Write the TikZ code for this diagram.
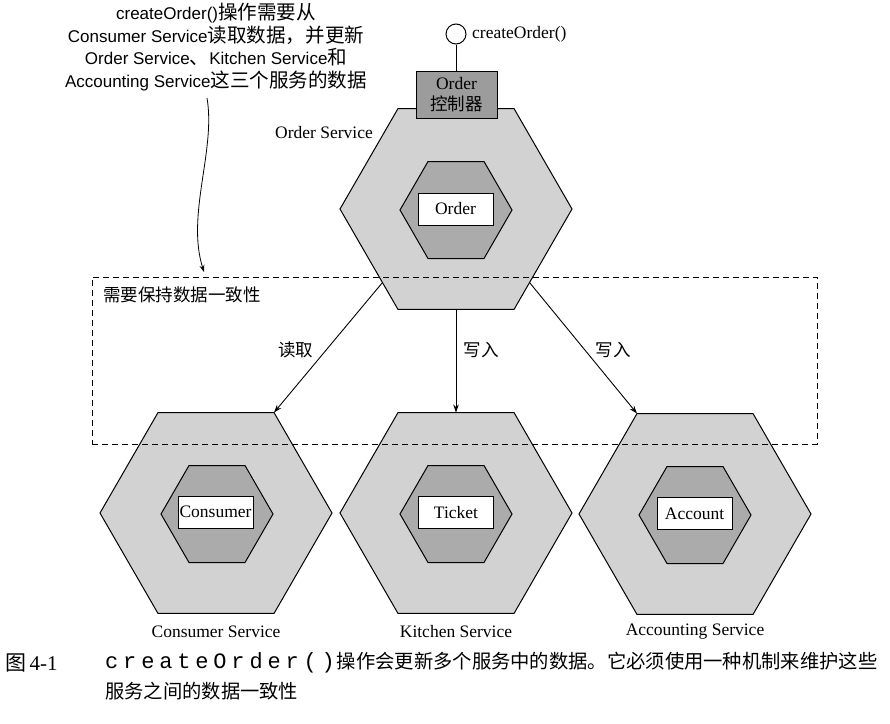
\documentclass[tikz,border=0pt]{standalone}
\usepackage{fontspec}
\setmainfont{Liberation Serif}
\setsansfont{Liberation Sans}
\setmonofont{Liberation Mono}
\newfontfamily\cjk{Noto Sans CJK SC}
\newfontfamily\cjkbig[Scale=1.15]{Noto Sans CJK SC}
\newfontfamily\capmono[LetterSpace=22]{Liberation Mono}
\usetikzlibrary{shapes.geometric,arrows.meta}
\definecolor{hexout}{HTML}{D2D2D2}
\definecolor{hexin}{HTML}{ABABAB}
\definecolor{ctrlfill}{HTML}{9C9C9C}
\tikzset{
  outerhex/.style={regular polygon, regular polygon sides=6, minimum size=232pt, inner sep=0pt, outer sep=0pt, draw=black, line width=1pt, fill=hexout},
  innerhex/.style={regular polygon, regular polygon sides=6, minimum size=112pt, inner sep=0pt, outer sep=0pt, draw=black, line width=1pt, fill=hexin},
  entbox/.style={draw=black, line width=1pt, fill=white, minimum width=75pt, minimum height=32pt, inner sep=0pt, font=\fontsize{17.5}{20}\selectfont},
  ctrlbox/.style={draw=black, line width=1pt, fill=ctrlfill, minimum width=81pt, minimum height=47pt, inner sep=0pt, align=center, font=\fontsize{17.5}{20.5}\selectfont},
  svclabel/.style={inner sep=0pt, font=\fontsize{17.5}{20}\selectfont},
  cjklabel/.style={inner sep=0pt, font=\cjk\fontsize{17.5}{20}\selectfont},
  arr/.style={line width=0.9pt, -{Stealth[length=8pt,width=5.5pt]}},
  zonebox/.style={draw=black, line width=1pt, dash pattern=on 6pt off 4pt, inner sep=0pt, minimum width=725pt, minimum height=167pt},
  captext/.style={inner sep=0pt, anchor=west, font=\fontsize{21}{22}\selectfont}
}
\begin{document}
\begin{tikzpicture}[x=1pt, y=-1pt]
\useasboundingbox (0,0) rectangle (890,723);

% annotation
\node[align=center, inner sep=0pt, font=\sffamily\fontsize{17}{22.5}\selectfont] (note) at (216,47)
 {createOrder(){\cjkbig 操作需要从}\\
  Consumer Service{\cjkbig 读取数据，并更新}\\
  Order Service{\cjkbig 、}Kitchen Service{\cjkbig 和}\\
  Accounting Service{\cjkbig 这三个服务的数据}};
\coordinate (ns) at (207,98);
\coordinate (ne) at (204,272);
\draw[line width=0.8pt, -{Stealth[length=7pt,width=5pt]}] (ns) .. controls (216,150) and (186,215) .. (ne);

% order service
\node[outerhex] (os) at (456,209) {};
\node[innerhex] (oi) at (456,210) {};
\node[entbox] (ob) at (455.5,209) {Order};
\node[svclabel, anchor=east] (osl) at (373,133) {Order Service};
\node[circle, draw=black, line width=1pt, fill=white, minimum size=20pt, inner sep=0pt] (iface) at (456,34) {};
\draw[line width=1pt] (iface) -- (456,71);
\node[ctrlbox] (ctl) at (456.5,94.5) {Order\\{\cjk 控制器}};
\node[svclabel, anchor=west] (ifl) at (472,34) {createOrder()};

% consumer service
\node[outerhex] (cs) at (216,513) {};
\node[innerhex] (ci) at (217,514) {};
\node[entbox] (cb) at (215.5,512) {Consumer};
\node[svclabel] (csl) at (216,632) {Consumer Service};

% kitchen service
\node[outerhex] (ks) at (456,513) {};
\node[innerhex] (ki) at (456,514) {};
\node[entbox] (kb) at (456,512.5) {Ticket};
\node[svclabel] (ksl) at (456,632) {Kitchen Service};

% accounting service
\node[outerhex] (as) at (695,514) {};
\node[innerhex] (ai) at (695,515) {};
\node[entbox] (ab) at (694.5,513.5) {Account};
\node[svclabel] (asl) at (695,632) {Accounting Service};

% arrows
\draw[arr] (os.225) -- (cs.60);
\draw[arr] (os.270) -- (ks.90);
\draw[arr] (os.315) -- (as.120);
\node[cjklabel] (l1) at (295.5,350) {读取};
\node[cjklabel] (l2) at (481,350) {写入};
\node[cjklabel] (l3) at (613,350) {写入};

% consistency zone
\node[zonebox] (zone) at (454.5,360.5) {};
\node[cjklabel, anchor=west] (zl) at (103,295) {需要保持数据一致性};

% caption
\node[captext] (fig) at (5,663) {{\cjk 图}\,4-1};
\node[captext] (cap1) at (105,663) {{\capmono\fontsize{22}{24}\selectfont createOrder()}\hspace{2pt}{\cjk\fontsize{19.3}{22}\selectfont 操作会更新多个服务中的数据。它必须使用一种机制来维护这些}};
\node[captext] (cap2) at (105,691) {{\cjk\fontsize{19.3}{22}\selectfont 服务之间的数据一致性}};
\end{tikzpicture}
\end{document}
